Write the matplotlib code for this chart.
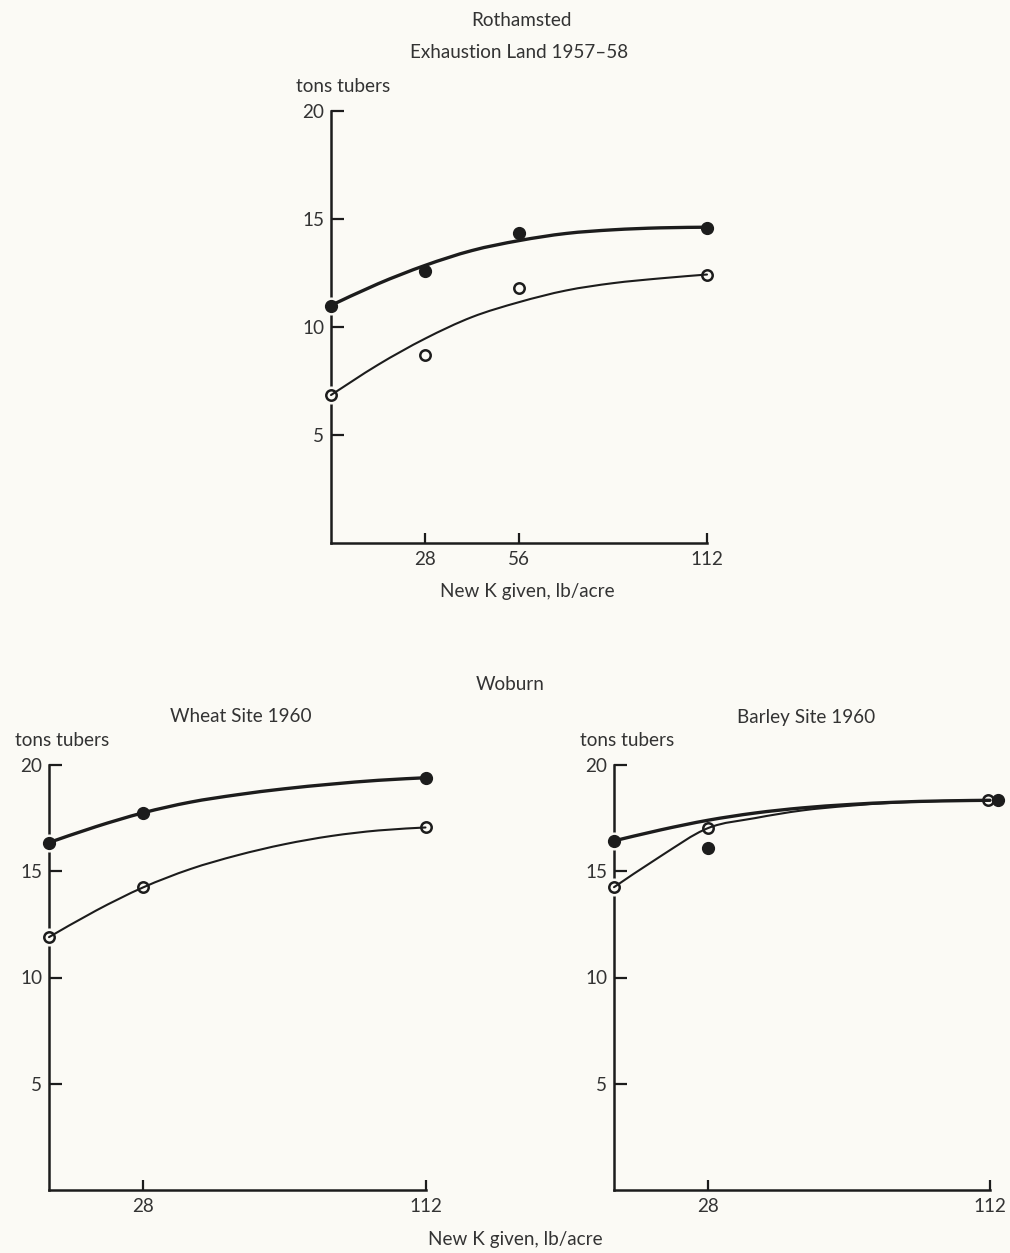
import matplotlib
matplotlib.use("Agg")
import matplotlib.pyplot as plt
from matplotlib.path import Path
from matplotlib.patches import PathPatch

# ---------------- data ----------------
k_points_top = [0, 28, 56, 112]
top_filled = [10.95, 12.58, 14.35, 14.58]
top_open = [6.85, 8.72, 11.8, 12.43]

curve_x = [0, 14, 28, 42, 56, 70, 84, 98, 112]
top_filled_curve = [11.0, 12.0, 12.85, 13.54, 14.0, 14.33, 14.5, 14.59, 14.62]
top_open_curve = [6.85, 8.25, 9.46, 10.46, 11.15, 11.69, 12.03, 12.25, 12.43]

k_points_wheat = [0, 28, 112]
wheat_filled = [16.35, 17.75, 19.4]
wheat_open = [11.9, 14.24, 17.06]
wheat_filled_curve = [16.35, 17.1, 17.75, 18.25, 18.6, 18.88, 19.1, 19.28, 19.4]
wheat_open_curve = [11.9, 13.15, 14.24, 15.1, 15.75, 16.27, 16.66, 16.92, 17.06]

k_points_barley_filled = [0, 28, 114.3]
k_points_barley_open = [0, 28, 111.5]
barley_filled = [16.43, 16.08, 18.34]
barley_open = [14.25, 17.03, 18.34]
barley_filled_curve = [16.43, 16.95, 17.4, 17.74, 17.98, 18.14, 18.25, 18.31, 18.34]
barley_open_curve = [14.25, 15.72, 17.03, 17.5, 17.86, 18.08, 18.23, 18.31, 18.34]

yticks = [5, 10, 15, 20]
ytick_labels = ["5", "10", "15", "20"]
xticks_top = [28, 56, 112]
xticks_bottom = [28, 112]

# ---------------- style ----------------
BG = "#fbfaf5"
INK = "#1c1c1c"
TXT = "#333333"
FONT = "Lato"
FS = 13.6

plt.rcParams["font.family"] = [FONT, "DejaVu Sans"]

W, H = 1010, 1253
fig = plt.figure(figsize=(W / 100, H / 100), dpi=100, facecolor=BG)


def px_axes(x0, x112, y0, y20):
    left = x0 / W
    width = (x112 - x0) / W
    bottom = 1 - y0 / H
    height = (y0 - y20) / H
    ax = fig.add_axes([left, bottom, width, height])
    ax.set_facecolor("none")
    return ax


def style(ax, xt):
    ax.set_xlim(0, 112)
    ax.set_ylim(0, 20)
    for s in ["top", "right"]:
        ax.spines[s].set_visible(False)
    for s in ["left", "bottom"]:
        ax.spines[s].set_linewidth(1.8)
        ax.spines[s].set_color(INK)
        ax.spines[s].set_zorder(1)
    ax.set_yticks(yticks)
    ax.set_yticklabels(ytick_labels)
    ax.set_xticks(xt)
    ax.set_xticklabels([str(v) for v in xt])
    ax.tick_params(axis="y", direction="in", length=9, width=1.6, color=INK,
                   labelsize=FS, labelcolor=TXT, pad=5)
    ax.tick_params(axis="x", direction="in", length=7.5, width=1.6, color=INK,
                   labelsize=FS, labelcolor=TXT, pad=6)


def markers(ax, xs, ys, filled):
    # background halo that breaks lines / spine around each point
    ax.plot(xs, ys, linestyle="none", marker="o", markersize=12,
            markerfacecolor=BG, markeredgecolor=BG, clip_on=False, zorder=3)
    if filled:
        ax.plot(xs, ys, linestyle="none", marker="o", markersize=8.5,
                markerfacecolor=INK, markeredgecolor=INK, clip_on=False, zorder=4)
    else:
        ax.plot(xs, ys, linestyle="none", marker="o", markersize=7.5,
                markerfacecolor=BG, markeredgecolor=INK, markeredgewidth=1.8,
                clip_on=False, zorder=4)


def smooth_line(ax, xs, ys, lw):
    """Draw a smooth Bezier path through the read points (Catmull-Rom style)."""
    pts = ax.transData.transform(list(zip(xs, ys)))
    n = len(pts)
    verts = [tuple(pts[0])]
    codes = [Path.MOVETO]
    for i in range(n - 1):
        p0 = pts[i - 1] if i > 0 else pts[i]
        p1 = pts[i]
        p2 = pts[i + 1]
        p3 = pts[i + 2] if i + 2 < n else pts[i + 1]
        c1 = p1 + (p2 - p0) / 6.0
        c2 = p2 - (p3 - p1) / 6.0
        verts += [tuple(c1), tuple(c2), tuple(p2)]
        codes += [Path.CURVE4] * 3
    path = Path(verts, codes)
    patch = PathPatch(path, facecolor="none", edgecolor=INK, linewidth=lw,
                      capstyle="round", transform=None, zorder=2, clip_on=False)
    fig.add_artist(patch)


def curves(ax, cf, co):
    smooth_line(ax, curve_x, cf, 2.4)
    smooth_line(ax, curve_x, co, 1.5)


ax1 = px_axes(331, 707, 543, 111)
style(ax1, xticks_top)
ax2 = px_axes(49, 425.5, 1190, 765)
style(ax2, xticks_bottom)
ax3 = px_axes(614, 990, 1190, 765)
style(ax3, xticks_bottom)

fig.canvas.draw()

# ---- top chart: Rothamsted ----
curves(ax1, top_filled_curve, top_open_curve)
markers(ax1, k_points_top, top_open, False)
markers(ax1, k_points_top, top_filled, True)

# ---- bottom left: Wheat ----
curves(ax2, wheat_filled_curve, wheat_open_curve)
markers(ax2, k_points_wheat, wheat_open, False)
markers(ax2, k_points_wheat, wheat_filled, True)

# ---- bottom right: Barley ----
curves(ax3, barley_filled_curve, barley_open_curve)
markers(ax3, k_points_barley_open, barley_open, False)
markers(ax3, k_points_barley_filled, barley_filled, True)


def ftext(xp, yp, s):
    fig.text(xp / W, 1 - yp / H, s, ha="center", va="center", fontsize=FS,
             color=TXT, family=[FONT, "DejaVu Sans"])


ftext(521, 20, "Rothamsted")
ftext(519, 52, "Exhaustion Land 1957–58")
ftext(343, 87, "tons tubers")
ftext(527, 591, "New K given, lb/acre")
ftext(510, 685, "Woburn")
ftext(241, 717, "Wheat Site 1960")
ftext(806, 717, "Barley Site 1960")
ftext(62, 741, "tons tubers")
ftext(627, 741, "tons tubers")
ftext(515, 1240, "New K given, lb/acre")

fig.savefig("out.png", dpi=100, facecolor=BG)
